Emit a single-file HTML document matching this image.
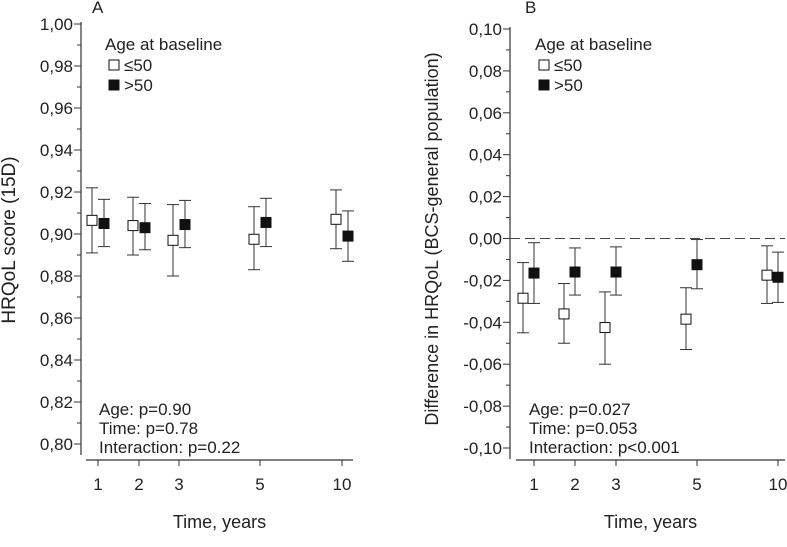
<!DOCTYPE html>
<html><head><meta charset="utf-8"><style>
body{margin:0;background:#fff}
svg{display:block;font-family:"Liberation Sans",sans-serif}
text{fill:#222}
</style></head><body>
<svg id="c" width="787" height="547"></svg>
<script>
const years=["1","2","3","5","10"];
const aOpen=[0.9065,0.904,0.897,0.8975,0.907];
const aOpenLo=[0.891,0.890,0.880,0.883,0.893];
const aOpenHi=[0.922,0.9175,0.914,0.913,0.921];
const aFill=[0.905,0.903,0.9045,0.9055,0.899];
const aFillLo=[0.894,0.8925,0.8935,0.894,0.887];
const aFillHi=[0.9165,0.9145,0.916,0.917,0.911];
const bOpen=[-0.0285,-0.036,-0.0425,-0.0385,-0.0175];
const bOpenLo=[-0.045,-0.050,-0.060,-0.053,-0.031];
const bOpenHi=[-0.0115,-0.0215,-0.0255,-0.0235,-0.0035];
const bFill=[-0.0165,-0.016,-0.016,-0.0125,-0.0185];
const bFillLo=[-0.031,-0.027,-0.027,-0.024,-0.0305];
const bFillHi=[-0.002,-0.0045,-0.004,-0.0005,-0.0065];
const aTicks=["1,00","0,98","0,96","0,94","0,92","0,90","0,88","0,86","0,84","0,82","0,80"];
const bTicks=["0,10","0,08","0,06","0,04","0,02","0,00","-0,02","-0,04","-0,06","-0,08","-0,10"];
const aStats=["Age: p=0.90","Time: p=0.78","Interaction: p=0.22"];
const bStats=["Age: p=0.027","Time: p=0.053","Interaction: p<0.001"];
const NS="http://www.w3.org/2000/svg",svg=document.getElementById('c');
function el(t,a,txt){const e=document.createElementNS(NS,t);for(const k in a)e.setAttribute(k,a[k]);if(txt!==undefined)e.textContent=txt;svg.appendChild(e);return e;}
function panel(o){
 const y=v=>o.yTop+(o.max-v)/(o.max-o.min)*(o.yBot-o.yTop);
 let e=el('line',{x1:o.ax,x2:o.ax,y1:o.yTop-2,y2:o.yBot+11,stroke:'#333','stroke-width':1.2});
 
 o.ticks.forEach((t,i)=>{const v=o.max-i*(o.max-o.min)/(o.ticks.length-1);const yy=y(v);
  el('line',{x1:o.ax-7,x2:o.ax,y1:yy,y2:yy,stroke:'#333'});
  if(i<o.ticks.length-1)el('line',{x1:o.ax-4,x2:o.ax,y1:yy+(o.yBot-o.yTop)/20,y2:yy+(o.yBot-o.yTop)/20,stroke:'#333'});
  e=el('text',{x:o.ax-8,y:yy+6,'text-anchor':'end','font-size':17},t);
  });
 e=el('line',{x1:o.xs,x2:o.xe,y1:460,y2:460,stroke:'#333','stroke-width':1.2});
 
 years.forEach((t,i)=>{const xx=o.xt[i];el('line',{x1:xx,x2:xx,y1:460,y2:466,stroke:'#333'});
  e=el('text',{x:xx,y:490,'text-anchor':'middle','font-size':17},t);
  });
 e=el('text',{x:(o.xs+o.xe)/2,y:528,'text-anchor':'middle','font-size':18},'Time, years');
 
 e=el('text',{x:o.tx,y:o.ty,'text-anchor':'middle',transform:`rotate(-90 ${o.tx} ${o.ty})`,'font-size':o.tfs},o.title);
 
 e=el('text',{x:o.lx,y:13,'font-size':17},o.p==='a'?'A':'B');
 
 if(o.zero){e=el('line',{x1:o.ax,x2:785,y1:y(0),y2:y(0),stroke:'#444','stroke-dasharray':'10,5'});
  }
 function series(vals,lo,hi,off,fill,nm){vals.forEach((v,i)=>{const xx=o.xt[i]+off;
  el('line',{x1:xx,x2:xx,y1:y(hi[i]),y2:y(lo[i]),stroke:'#333'});
  el('line',{x1:xx-6,x2:xx+6,y1:y(hi[i]),y2:y(hi[i]),stroke:'#333'});
  el('line',{x1:xx-6,x2:xx+6,y1:y(lo[i]),y2:y(lo[i]),stroke:'#333'});
  const r=el('rect',{x:xx-5,y:y(v)-5,width:10,height:10,fill:fill,stroke:'#111','stroke-width':1});
  });}
 series(o.ov,o.ol,o.oh,o.oo,'#fff','age-le50');
 series(o.fv,o.fl,o.fh,o.fo,'#111','age-gt50');
 e=el('text',{x:o.lgx,y:50,'font-size':17},'Age at baseline');
 
 e=el('rect',{x:o.lgx+4,y:60,width:10,height:10,fill:'#fff',stroke:'#111'});
 
 e=el('text',{x:o.lgx+19,y:71,'font-size':17},'≤50');
 e=el('rect',{x:o.lgx+4,y:80,width:10,height:10,fill:'#111',stroke:'#111'});
 
 e=el('text',{x:o.lgx+19,y:91,'font-size':17},'>50');
 o.stats.forEach((s,i)=>{e=el('text',{x:o.sx,y:415+i*19,'font-size':17},s);
  });
}
panel({p:'a',ax:81,yTop:24,yBot:444,max:1.0,min:0.8,ticks:aTicks,xs:86,xe:353,xt:[98,139,179,260,342],
 tx:15,ty:240,tfs:19,title:'HRQoL score (15D)',lx:92,zero:false,ov:aOpen,ol:aOpenLo,oh:aOpenHi,oo:-6,fv:aFill,fl:aFillLo,fh:aFillHi,fo:6,
 lgx:105,stats:aStats,sx:99});
panel({p:'b',ax:510,yTop:29,yBot:448,max:0.1,min:-0.1,ticks:bTicks,xs:516,xe:785,xt:[534,575,616,697,778],
 tx:438,ty:239,tfs:18,title:'Difference in HRQoL (BCS-general population)',lx:525,zero:true,ov:bOpen,ol:bOpenLo,oh:bOpenHi,oo:-11,fv:bFill,fl:bFillLo,fh:bFillHi,fo:0,
 lgx:535,stats:bStats,sx:529});
</script>
</body></html>
